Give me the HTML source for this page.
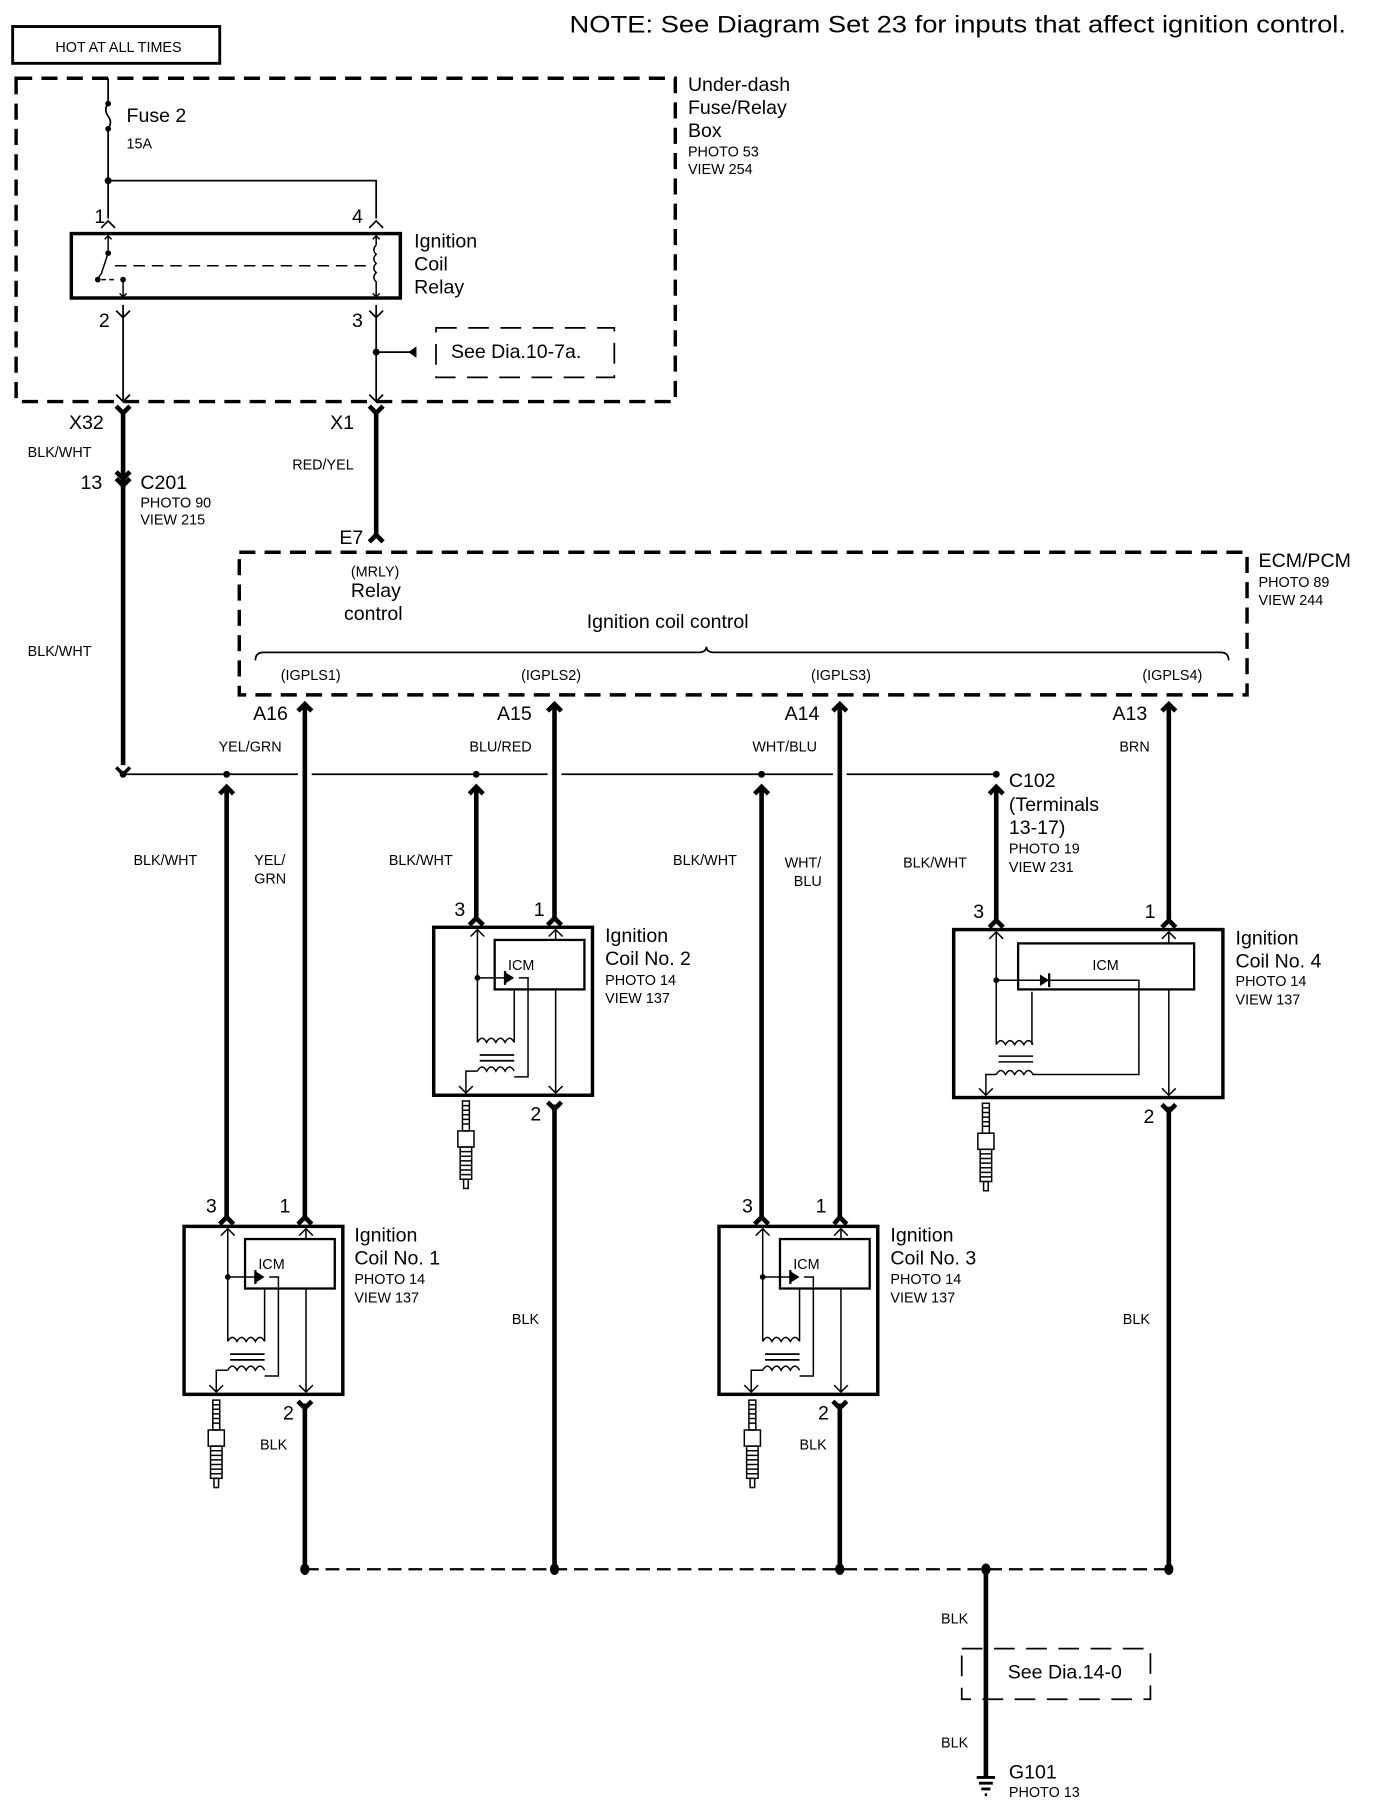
<!DOCTYPE html>
<html><head><meta charset="utf-8"><style>
html,body{margin:0;padding:0;background:#fff}
svg{display:block}
text{font-family:"Liberation Sans",Arial,sans-serif;fill:#000}
.b{font-size:17px}.s{font-size:12.5px}
</style></head><body>
<svg width="1392" height="1812" viewBox="0 0 1210 1575" xmlns="http://www.w3.org/2000/svg">
<defs>
<g id="coil" fill="none" stroke="#000">
  <rect x="0" y="0" width="138" height="146" stroke-width="3"/>
  <rect x="53" y="11" width="78" height="43" stroke-width="2"/>
  <text x="76" y="37" class="s" stroke="none" text-anchor="middle">ICM</text>
  <path d="M38 2V100M106 2V11M106 54V144M28 144V125H38" stroke-width="1.3"/>
  <path d="M32 8l6-6 6 6M100 8l6-6 6 6M100 138l6 6 6-6M22 138l6 6 6-6" stroke-width="1.3"/>
  <path d="M38 44H62M70 54V100M74 44H82V130H70" stroke-width="1.3"/>
  <circle cx="38" cy="44" r="2.5" fill="#000" stroke="none"/>
  <path d="M62 39v10l8-5z" fill="#000" stroke="none"/><path d="M62 38v12" stroke-width="2"/>
  <path d="M38 100q4-7 8 0q4-7 8 0q4-7 8 0q4-7 8 0" stroke-width="1.3"/>
  <path d="M40 111H70M40 116H70" stroke-width="1.5"/>
  <path d="M38 125q4-7 8 0q4-7 8 0q4-7 8 0q4-7 8 0" stroke-width="1.3"/>
</g>
<g id="plug" fill="none" stroke="#000" stroke-width="1.3">
  <rect x="-3" y="2" width="6" height="26"/>
  <path d="M-3 6h6M-3 10h6M-3 14h6M-3 18h6M-3 22h6"/>
  <rect x="-7" y="28" width="14" height="14"/>
  <rect x="-5" y="42" width="10" height="28"/>
  <path d="M-5 46h10M-5 50h10M-5 54h10M-5 58h10M-5 62h10M-5 66h10"/>
  <rect x="-2" y="70" width="4" height="8"/>
</g>
</defs>

<text x="495" y="28" style="font-size:21px" textLength="675" lengthAdjust="spacingAndGlyphs">NOTE: See Diagram Set 23 for inputs that affect ignition control.</text>
<rect x="11" y="23" width="180" height="32" fill="none" stroke="#000" stroke-width="2.5"/>
<text x="103" y="45" class="s" text-anchor="middle">HOT AT ALL TIMES</text>

<!-- fuse box -->
<rect x="14" y="68" width="573" height="281" fill="none" stroke="#000" stroke-width="3" stroke-dasharray="14,8"/>
<text x="598" y="79" class="b">Under-dash</text><text x="598" y="99" class="b">Fuse/Relay</text><text x="598" y="119" class="b">Box</text>
<text x="598" y="136" class="s">PHOTO 53</text><text x="598" y="151" class="s">VIEW 254</text>
<text x="110" y="106" class="b">Fuse 2</text><text x="110" y="129" class="s">15A</text>
<g fill="none" stroke="#000" stroke-width="1.5">
<path d="M94 68V90M94 112V190M94 157H327V190"/>
<path d="M94 90q-4 5 0 11q4 5 0 11"/>
<path d="M88 198l6-6 6 6M321 198l6-6 6 6"/>
<path d="M107 265l0 84M101 270l6 6 6-6M327 265V349M321 270l6 6 6-6"/>
<path d="M101 343l6 6 6-6M321 343l6 6 6-6"/>
<path d="M327 306H362"/>
</g>
<circle cx="94" cy="90" r="2.5"/><circle cx="94" cy="112" r="2.5"/><circle cx="94" cy="157" r="3"/><circle cx="327" cy="306" r="3"/>
<path d="M362 301v10l-7-5z"/>
<text x="82" y="194" class="b">1</text><text x="306" y="194" class="b">4</text>
<text x="86" y="284" class="b">2</text><text x="306" y="284" class="b">3</text>
<rect x="62" y="203" width="286" height="56" fill="none" stroke="#000" stroke-width="3"/>
<g fill="none" stroke="#000" stroke-width="1.3">
<path d="M94 203V220M91 208l3-3 3 3M94 220L88 238M88 238L85 242"/>
<path d="M100 231H320" stroke-dasharray="10,6"/>
<path d="M88 243H102" stroke-dasharray="4,3"/>
<path d="M107 243V259M104 255l3 3 3-3"/>
<path d="M327 203V213M324 208l3-3 3 3M327 213q-4 4 0 8q-4 4 0 8q-4 4 0 8q-4 4 0 8V259M324 255l3 3 3-3"/>
</g>
<circle cx="94" cy="220" r="2.5"/><circle cx="85" cy="243" r="2.5"/><circle cx="107" cy="243" r="2.5"/>
<text x="360" y="215" class="b">Ignition</text><text x="360" y="235" class="b">Coil</text><text x="360" y="255" class="b">Relay</text>
<rect x="379" y="285" width="155" height="43" fill="none" stroke="#000" stroke-width="1.5" stroke-dasharray="18,10"/>
<text x="392" y="311" class="b">See Dia.10-7a.</text>

<!-- X32/X1 -->
<g fill="none" stroke="#000" stroke-width="4">
<path d="M107 358V665"/><path d="M327 358V465"/>
<path d="M101 353l6 6 6-6M321 353l6 6 6-6"/>
<path d="M101 410l6 6 6-6M101 416l6 6 6-6"/>
<path d="M321 471l6-6 6 6"/>
</g>
<text x="60" y="373" class="b">X32</text><text x="287" y="373" class="b">X1</text>
<text x="24" y="397" class="s">BLK/WHT</text><text x="70" y="425" class="b">13</text>
<text x="122" y="425" class="b">C201</text><text x="122" y="441" class="s">PHOTO 90</text><text x="122" y="456" class="s">VIEW 215</text>
<text x="254" y="408" class="s">RED/YEL</text><text x="295" y="473" class="b">E7</text>
<text x="24" y="570" class="s">BLK/WHT</text>

<!-- ECM -->
<rect x="208" y="480" width="876" height="124" fill="none" stroke="#000" stroke-width="3" stroke-dasharray="14,8"/>
<text x="1094" y="493" class="b">ECM/PCM</text><text x="1094" y="510" class="s">PHOTO 89</text><text x="1094" y="526" class="s">VIEW 244</text>
<text x="305" y="501" class="s">(MRLY)</text><text x="305" y="519" class="b">Relay</text><text x="299" y="539" class="b">control</text>
<text x="510" y="546" class="b">Ignition coil control</text>
<path d="M222 574q0-7 7-7H607q7 0 7-5q0 5 7 5H1061q7 0 7 7" fill="none" stroke="#000" stroke-width="1.5"/>
<text x="244" y="591" class="s">(IGPLS1)</text><text x="453" y="591" class="s">(IGPLS2)</text><text x="705" y="591" class="s">(IGPLS3)</text><text x="993" y="591" class="s">(IGPLS4)</text>
<text x="220" y="626" class="b">A16</text><text x="432" y="626" class="b">A15</text><text x="682" y="626" class="b">A14</text><text x="967" y="626" class="b">A13</text>

<!-- horizontal bus -->
<path d="M107 673H259M271 673H476M488 673H724M736 673H866" fill="none" stroke="#000" stroke-width="1.5"/>
<circle cx="107" cy="673" r="3"/><circle cx="197" cy="673" r="3"/><circle cx="414" cy="673" r="3"/><circle cx="662" cy="673" r="3"/><circle cx="866" cy="673" r="3"/>
<path d="M101 667l6 6 6-6" fill="none" stroke="#000" stroke-width="3"/>

<g fill="none" stroke="#000" stroke-width="4">
<path d="M265 612V1060M482 612V800M730 612V1060M1016 612V802"/>
<path d="M259 618l6-6 6 6M476 618l6-6 6 6M724 618l6-6 6 6M1010 618l6-6 6 6"/>
<path d="M197 684V1060M414 684V800M662 684V1060M866 684V802"/>
<path d="M191 690l6-6 6 6M408 690l6-6 6 6M656 690l6-6 6 6M860 690l6-6 6 6"/>
<path d="M191 1064l6-6 6 6M259 1064l6-6 6 6M725 1064l5-6 6 6M656 1064l6-6 6 6"/>
<path d="M408 804l6-6 6 6M476 804l6-6 6 6M860 806l6-6 6 6M1010 806l6-6 6 6"/>
<path d="M259 1218l6 6 6-6M724 1218l6 6 6-6M476 958l6 6 6-6M1010 960l6 6 6-6"/>
<path d="M265 1220V1363M730 1220V1363M482 960V1363M1016 962V1363M857 1363V1545"/>
</g>
<text x="190" y="653" class="s">YEL/GRN</text><text x="408" y="653" class="s">BLU/RED</text><text x="654" y="653" class="s">WHT/BLU</text><text x="973" y="653" class="s">BRN</text>
<text x="877" y="684" class="b">C102</text><text x="877" y="705" class="b">(Terminals</text><text x="877" y="725" class="b">13-17)</text>
<text x="877" y="742" class="s">PHOTO 19</text><text x="877" y="758" class="s">VIEW 231</text>
<text x="116" y="752" class="s">BLK/WHT</text><text x="221" y="752" class="s">YEL/</text><text x="221" y="768" class="s">GRN</text>
<text x="338" y="752" class="s">BLK/WHT</text><text x="585" y="752" class="s">BLK/WHT</text>
<text x="682" y="754" class="s">WHT/</text><text x="690" y="770" class="s">BLU</text><text x="785" y="754" class="s">BLK/WHT</text>

<!-- coil 2 -->
<use href="#coil" x="377" y="806"/>
<use href="#plug" x="405" y="955"/>
<text x="395" y="796" class="b">3</text><text x="464" y="796" class="b">1</text><text x="461" y="974" class="b">2</text>
<text x="526" y="819" class="b">Ignition</text><text x="526" y="839" class="b">Coil No. 2</text><text x="526" y="856" class="s">PHOTO 14</text><text x="526" y="872" class="s">VIEW 137</text>

<!-- coil 4 -->
<rect x="829" y="808" width="234" height="146" fill="none" stroke="#000" stroke-width="3"/>
<rect x="885" y="820" width="153" height="40" fill="none" stroke="#000" stroke-width="2"/>
<text x="961" y="843" class="s" text-anchor="middle">ICM</text>
<g fill="none" stroke="#000" stroke-width="1.3">
<path d="M866 810V908M1016 810V820M1016 860V952M857 952V934H866"/>
<path d="M860 816l6-6 6 6M1010 816l6-6 6 6M1010 946l6 6 6-6M851 946l6 6 6-6"/>
<path d="M866 852H900M900 852H990V934H897M897 862V908"/>
<path d="M866 908q4-7 8 0q4-7 8 0q4-7 8 0q4-7 8 0"/>
<path d="M868 918H898M868 923H898"/>
<path d="M866 934q4-7 8 0q4-7 8 0q4-7 8 0q4-7 8 0"/>
</g>
<circle cx="866" cy="852" r="2.5"/><path d="M904 847v10l8-5z"/><path d="M912 846v12" stroke="#000" stroke-width="2"/>
<use href="#plug" x="857" y="957"/>
<text x="846" y="798" class="b">3</text><text x="995" y="798" class="b">1</text><text x="994" y="976" class="b">2</text>
<text x="1074" y="821" class="b">Ignition</text><text x="1074" y="841" class="b">Coil No. 4</text><text x="1074" y="857" class="s">PHOTO 14</text><text x="1074" y="873" class="s">VIEW 137</text>

<!-- coil 1 -->
<use href="#coil" x="160" y="1066"/>
<use href="#plug" x="188" y="1215"/>
<text x="179" y="1054" class="b">3</text><text x="243" y="1054" class="b">1</text><text x="246" y="1234" class="b">2</text>
<text x="308" y="1079" class="b">Ignition</text><text x="308" y="1099" class="b">Coil No. 1</text><text x="308" y="1116" class="s">PHOTO 14</text><text x="308" y="1132" class="s">VIEW 137</text>
<text x="226" y="1260" class="s">BLK</text>

<!-- coil 3 -->
<use href="#coil" x="625" y="1066"/>
<use href="#plug" x="654" y="1215"/>
<text x="645" y="1054" class="b">3</text><text x="709" y="1054" class="b">1</text><text x="711" y="1234" class="b">2</text>
<text x="774" y="1079" class="b">Ignition</text><text x="774" y="1099" class="b">Coil No. 3</text><text x="774" y="1116" class="s">PHOTO 14</text><text x="774" y="1132" class="s">VIEW 137</text>
<text x="695" y="1260" class="s">BLK</text>

<text x="445" y="1151" class="s">BLK</text><text x="976" y="1151" class="s">BLK</text>

<!-- ground bus -->
<path d="M265 1364H1016" fill="none" stroke="#000" stroke-width="2" stroke-dasharray="12,6"/>
<g><ellipse cx="265" cy="1364" rx="4" ry="5"/><ellipse cx="482" cy="1364" rx="4" ry="5"/><ellipse cx="730" cy="1364" rx="4" ry="5"/><ellipse cx="857" cy="1364" rx="4" ry="5"/><ellipse cx="1016" cy="1364" rx="4" ry="5"/></g>
<text x="818" y="1411" class="s">BLK</text>
<rect x="836" y="1433" width="164" height="44" fill="none" stroke="#000" stroke-width="1.5" stroke-dasharray="18,10"/>
<text x="876" y="1459" class="b">See Dia.14-0</text>
<text x="818" y="1519" class="s">BLK</text>
<path d="M849 1545h16M851 1550h12M853 1555h8M856 1560h2" stroke="#000" stroke-width="2.5"/>
<text x="877" y="1546" class="b">G101</text><text x="877" y="1562" class="s">PHOTO 13</text>
</svg>
</body></html>
